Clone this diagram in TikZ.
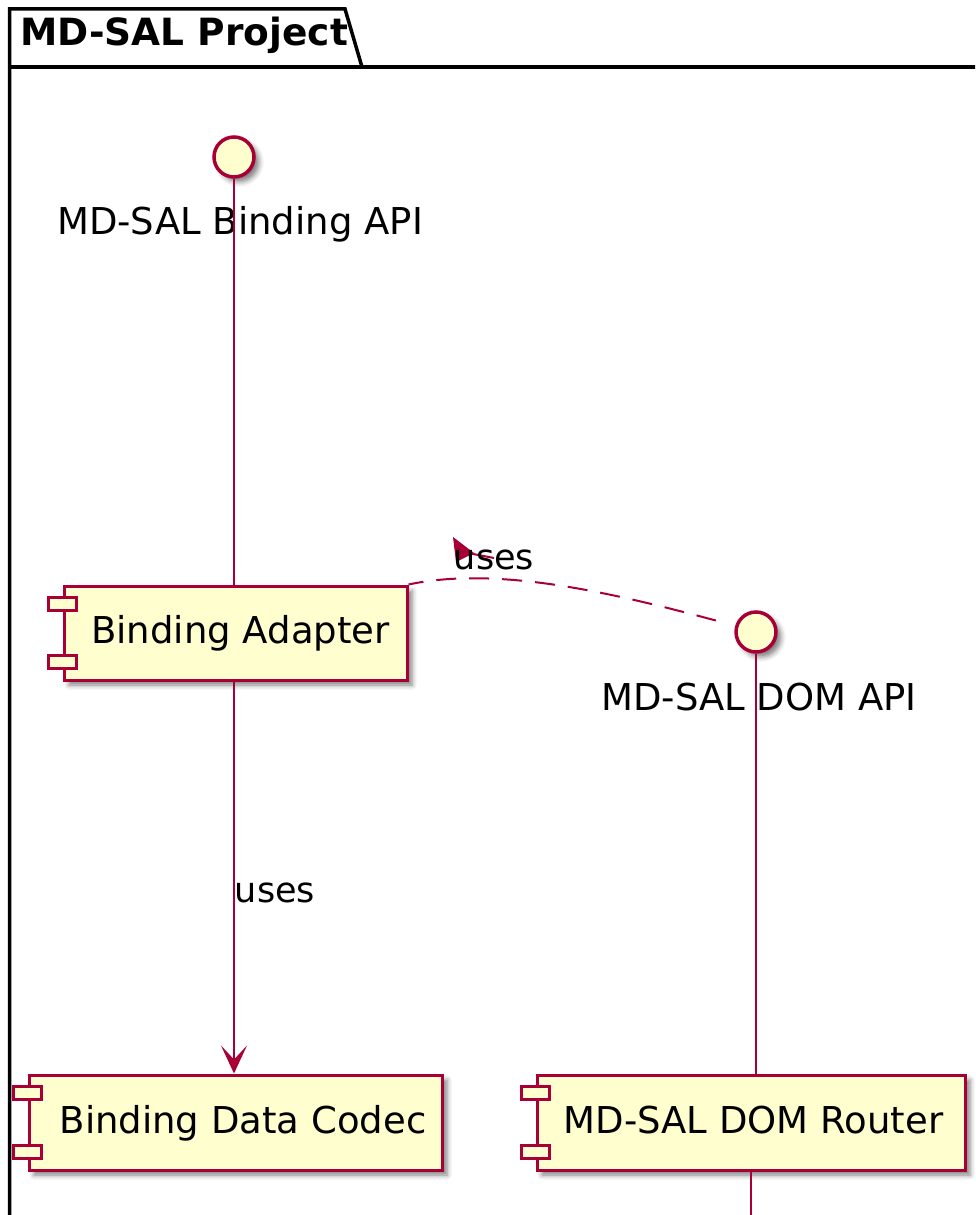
\documentclass[tikz,border=0pt]{standalone}
\usepackage{fontspec}
\setmainfont{DejaVu Sans}
\usetikzlibrary{shadows.blur, arrows.meta, calc}
\definecolor{pcrim}{HTML}{A80036}
\definecolor{pfill}{HTML}{FEFECE}
\tikzset{
 shd/.style={blur shadow={shadow xshift=5pt, shadow yshift=-5pt, shadow blur radius=5pt, shadow opacity=50}},
 comp/.style={draw=pcrim, fill=pfill, line width=3pt, rectangle, inner sep=0pt, shd},
 port/.style={draw=pcrim, fill=pfill, line width=3pt, rectangle, minimum width=28pt, minimum height=13pt, inner sep=0pt},
 iface/.style={draw=pcrim, fill=pfill, line width=3.5pt, circle, minimum size=40pt, inner sep=0pt, shd},
 txt/.style={font=\fontsize{37}{44}\selectfont, text=black, inner sep=0pt, anchor=base},
 lbl/.style={font=\fontsize{35}{42}\selectfont, text=black, inner sep=0pt, anchor=base},
 conn/.style={draw=pcrim, line width=2pt},
}
\begin{document}
\begin{tikzpicture}[x=1pt,y=-1pt]
\useasboundingbox (0,0) rectangle (975,1215);
\clip (0,0) rectangle (975,1215);
% package frame
\draw[line width=3.5pt, black, line join=miter] (9.5,1240) -- (9.5,9) -- (345,9) -- (362,67);
\draw[line width=3.5pt, black] (9.5,67) -- (1000,67);
\node[txt, font=\bfseries\fontsize{37.5}{44}\selectfont, anchor=base west] (pkg) at (20,46) {MD-SAL Project};
% interfaces
\node[iface] (bapi) at (234,157) {};
\node[txt] (bapil) at (240,234) {MD-SAL Binding API};
\node[iface] (dapi) at (756,632) {};
\node[txt] (dapil) at (759,710) {MD-SAL DOM API};
% components
\node[comp, minimum width=343pt, minimum height=94pt] (ba) at (235.5,633) {};
\node[port] (bap1) at ($(ba.north west)+(0,19)$) {};
\node[port] (bap2) at ($(ba.south west)+(0,-20)$) {};
\node[txt] (bat) at (240.5,643) {Binding Adapter};
\node[comp, minimum width=413pt, minimum height=95pt] (bdc) at (235.5,1122.5) {};
\node[port] (bdcp1) at ($(bdc.north west)+(0,19)$) {};
\node[port] (bdcp2) at ($(bdc.south west)+(0,-20)$) {};
\node[txt] (bdct) at (243,1133) {Binding Data Codec};
\node[comp, minimum width=428pt, minimum height=95pt] (dr) at (751,1122.5) {};
\node[port] (drp1) at ($(dr.north west)+(0,19)$) {};
\node[port] (drp2) at ($(dr.south west)+(0,-20)$) {};
\node[txt] (drt) at (753.5,1133) {MD-SAL DOM Router};
% connectors
\draw[conn] (bapi.south) -- (bapi.south |- ba.north);
\draw[conn, -{Stealth[length=28pt,width=26pt,inset=14pt]}] (bapi.south |- ba.south) -- (bapi.south |- bdc.north);
\node[lbl] (uses2) at (275,902) {uses};
\draw[conn] (dapi.south) -- (dapi.south |- dr.north);
\draw[conn] (dr.south) -- ++(0,80);
\draw[conn, dash pattern=on 20pt off 13pt, shorten <=20pt] (dapi.163) .. controls (620,595) and (500,565) .. (ba.north east);
\fill[pcrim] (453,537) -- (474,553) -- (456,562) -- cycle;
\draw[conn] (468,553) -- (494,558);
\node[lbl] (uses1) at (494,569) {uses};
\end{tikzpicture}
\end{document}
